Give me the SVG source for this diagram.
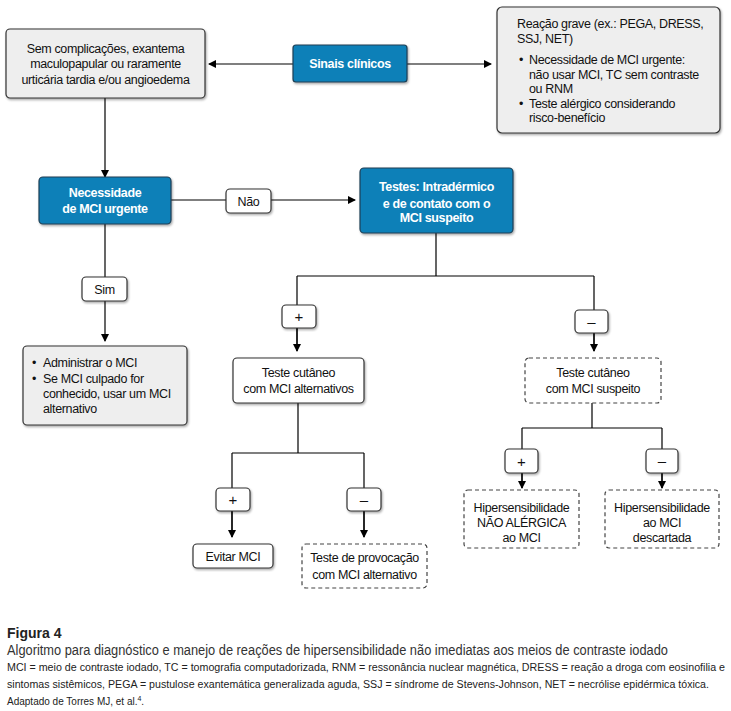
<svg xmlns="http://www.w3.org/2000/svg" width="731" height="711" viewBox="0 0 731 711">
<defs>
<marker id="ah" markerWidth="8" markerHeight="8" refX="7" refY="4" orient="auto" markerUnits="userSpaceOnUse">
<path d="M0,0 L8,4 L0,8 Z" fill="#000"/>
</marker>
<filter id="sh" x="-5%" y="-5%" width="115%" height="120%">
<feDropShadow dx="1" dy="1.5" stdDeviation="0.8" flood-color="#000" flood-opacity="0.35"/>
</filter>
</defs>
<style>
text{font-family:"Liberation Sans",Arial,sans-serif;fill:#111;}
.t{font-size:12.5px;text-anchor:middle;letter-spacing:-0.35px;}
.tl{font-size:12.5px;letter-spacing:-0.35px;}
.w{font-size:12.5px;text-anchor:middle;fill:#fff;font-weight:bold;letter-spacing:-0.35px;}
.s{font-size:15px;text-anchor:middle;}
.gray{fill:#eeeeee;stroke:#333;stroke-width:1.2;filter:url(#sh);}
.blue{fill:#0a80b8;stroke:#1f3f55;stroke-width:1.2;filter:url(#sh);}
.white{fill:#fff;stroke:#333;stroke-width:1.2;filter:url(#sh);}
.dash{fill:#fff;stroke:#444;stroke-width:1.2;stroke-dasharray:4 3;}
.lbl{fill:#fff;stroke:#333;stroke-width:1.2;filter:url(#sh);}
.c{fill:none;stroke:#000;stroke-width:1.2;}
.cap{font-size:10px;fill:#222;}
</style>
<rect width="731" height="711" fill="#fff"/>

<g id="connectors">
<line class="c" x1="293" y1="64" x2="209" y2="64" marker-end="url(#ah)"/>
<line class="c" x1="407" y1="64" x2="491" y2="64" marker-end="url(#ah)"/>
<line class="c" x1="105" y1="98" x2="105" y2="177" marker-end="url(#ah)"/>
<line class="c" x1="171" y1="200" x2="355" y2="200" marker-end="url(#ah)"/>
<line class="c" x1="105" y1="224" x2="105" y2="341" marker-end="url(#ah)"/>
<path class="c" d="M436,233 V276 M297,276 H594 M297,276 V351 M594,276 V351" />
<line class="c" x1="297" y1="305" x2="297" y2="351" marker-end="url(#ah)"/>
<line class="c" x1="594" y1="320" x2="594" y2="351" marker-end="url(#ah)"/>
<path class="c" d="M298,403 V453 M232,453 H364 M232,453 V537 M364,453 V537"/>
<line class="c" x1="232" y1="500" x2="232" y2="537" marker-end="url(#ah)"/>
<line class="c" x1="364" y1="500" x2="364" y2="537" marker-end="url(#ah)"/>
<path class="c" d="M592,403 V428 M522,428 H662 M522,428 V488 M662,428 V488"/>
<line class="c" x1="522" y1="460" x2="522" y2="488" marker-end="url(#ah)"/>
<line class="c" x1="662" y1="460" x2="662" y2="488" marker-end="url(#ah)"/>
</g>

<g id="n-sem">
<rect class="gray" x="6" y="29" width="199" height="69" rx="4"/>
<text class="t" x="105.5" y="52.5">Sem complicações, exantema</text>
<text class="t" x="105.5" y="68">maculopapular ou raramente</text>
<text class="t" x="105.5" y="83.5">urticária tardia e/ou angioedema</text>
</g>

<g id="n-sinais">
<rect class="blue" x="293" y="45" width="114" height="37" rx="3"/>
<text class="w" x="350" y="68">Sinais clínicos</text>
</g>

<g id="n-grave">
<rect class="gray" x="497" y="7" width="223" height="126" rx="5"/>
<text class="tl" x="517" y="27.5">Reação grave (ex.: PEGA, DRESS,</text>
<text class="tl" x="517" y="42.5">SSJ, NET)</text>
<text class="tl" x="519" y="63.5">•</text>
<text class="tl" x="529" y="63.5">Necessidade de MCI urgente:</text>
<text class="tl" x="529" y="78.5">não usar MCI, TC sem contraste</text>
<text class="tl" x="529" y="92.5">ou RNM</text>
<text class="tl" x="519" y="107.5">•</text>
<text class="tl" x="529" y="107.5">Teste alérgico considerando</text>
<text class="tl" x="529" y="121.5">risco-benefício</text>
</g>

<g id="n-necessidade">
<rect class="blue" x="39" y="177" width="132" height="47" rx="4"/>
<text class="w" x="105" y="197">Necessidade</text>
<text class="w" x="105" y="213">de MCI urgente</text>
</g>

<g id="l-nao">
<rect class="lbl" x="226" y="189" width="45" height="24" rx="4"/>
<text class="t" x="248.5" y="205.5">Não</text>
</g>

<g id="n-testes">
<rect class="blue" x="360" y="168" width="153" height="65" rx="4"/>
<text class="w" x="436.5" y="191">Testes: Intradérmico</text>
<text class="w" x="436.5" y="207.5">e de contato com o</text>
<text class="w" x="436.5" y="222">MCI suspeito</text>
</g>

<g id="l-sim">
<rect class="lbl" x="82" y="277" width="45" height="24" rx="4"/>
<text class="t" x="104.5" y="293.5">Sim</text>
</g>

<g id="n-admin">
<rect class="gray" x="23" y="346" width="164" height="79" rx="4"/>
<text class="tl" x="32" y="367">•</text>
<text class="tl" x="43" y="367">Administrar o MCI</text>
<text class="tl" x="32" y="383">•</text>
<text class="tl" x="43" y="383">Se MCI culpado for</text>
<text class="tl" x="43" y="398">conhecido, usar um MCI</text>
<text class="tl" x="43" y="413">alternativo</text>
</g>

<g id="l-plus1">
<rect class="lbl" x="282" y="305" width="34" height="23" rx="4"/>
<text class="s" x="299" y="322">+</text>
</g>

<g id="l-minus1">
<rect class="lbl" x="575" y="310" width="33" height="23" rx="4"/>
<text class="s" x="591.5" y="326.5">–</text>
</g>

<g id="n-cut-alt">
<rect class="white" x="233" y="358" width="131" height="45" rx="4"/>
<text class="t" x="298.5" y="377">Teste cutâneo</text>
<text class="t" x="298.5" y="392.5">com MCI alternativos</text>
</g>

<g id="n-cut-susp">
<rect class="dash" x="525" y="358" width="136" height="45" rx="4"/>
<text class="t" x="593" y="377">Teste cutâneo</text>
<text class="t" x="593" y="392.5">com MCI suspeito</text>
</g>

<g id="l-plus2">
<rect class="lbl" x="216" y="488" width="34" height="23" rx="4"/>
<text class="s" x="233" y="505">+</text>
</g>

<g id="l-minus2">
<rect class="lbl" x="347" y="488" width="34" height="23" rx="4"/>
<text class="s" x="364" y="504.5">–</text>
</g>

<g id="n-evitar">
<rect class="white" x="193" y="544" width="80" height="24" rx="4"/>
<text class="t" x="233" y="560.5">Evitar MCI</text>
</g>

<g id="n-provoc">
<rect class="dash" x="302" y="544" width="125" height="44" rx="4"/>
<text class="t" x="364.5" y="561.5">Teste de provocação</text>
<text class="t" x="364.5" y="579">com MCI alternativo</text>
</g>

<g id="l-plus3">
<rect class="lbl" x="505" y="449" width="33" height="24" rx="4"/>
<text class="s" x="521.5" y="466.5">+</text>
</g>

<g id="l-minus3">
<rect class="lbl" x="646" y="449" width="32" height="24" rx="4"/>
<text class="s" x="662" y="466">–</text>
</g>

<g id="n-nao-alergica">
<rect class="dash" x="464" y="490" width="115" height="58" rx="4"/>
<text class="t" x="521.5" y="512">Hipersensibilidade</text>
<text class="t" x="521.5" y="527">NÃO ALÉRGICA</text>
<text class="t" x="521.5" y="541.5">ao MCI</text>
</g>

<g id="n-descartada">
<rect class="dash" x="605" y="490" width="114" height="58" rx="4"/>
<text class="t" x="662" y="512">Hipersensibilidade</text>
<text class="t" x="662" y="527">ao MCI</text>
<text class="t" x="662" y="541.5">descartada</text>
</g>

<g id="caption">
<text x="7" y="637.5" style="font-size:14px;font-weight:bold;fill:#222">Figura 4</text>
<text x="7" y="655" style="font-size:14px;fill:#333" textLength="661" lengthAdjust="spacingAndGlyphs">Algoritmo para diagnóstico e manejo de reações de hipersensibilidade não imediatas aos meios de contraste iodado</text>
<text class="cap" x="7" y="671" textLength="718" lengthAdjust="spacingAndGlyphs">MCI = meio de contraste iodado, TC = tomografia computadorizada, RNM = ressonância nuclear magnética, DRESS = reação a droga com eosinofilia e</text>
<text class="cap" x="7" y="688" textLength="702" lengthAdjust="spacingAndGlyphs">sintomas sistêmicos, PEGA = pustulose exantemática generalizada aguda, SSJ = síndrome de Stevens-Johnson, NET = necrólise epidérmica tóxica.</text>
<text class="cap" x="7" y="705">Adaptado de Torres MJ, et al.<tspan dy="-4" style="font-size:7px">4</tspan><tspan dy="4">.</tspan></text>
</g>
</svg>
